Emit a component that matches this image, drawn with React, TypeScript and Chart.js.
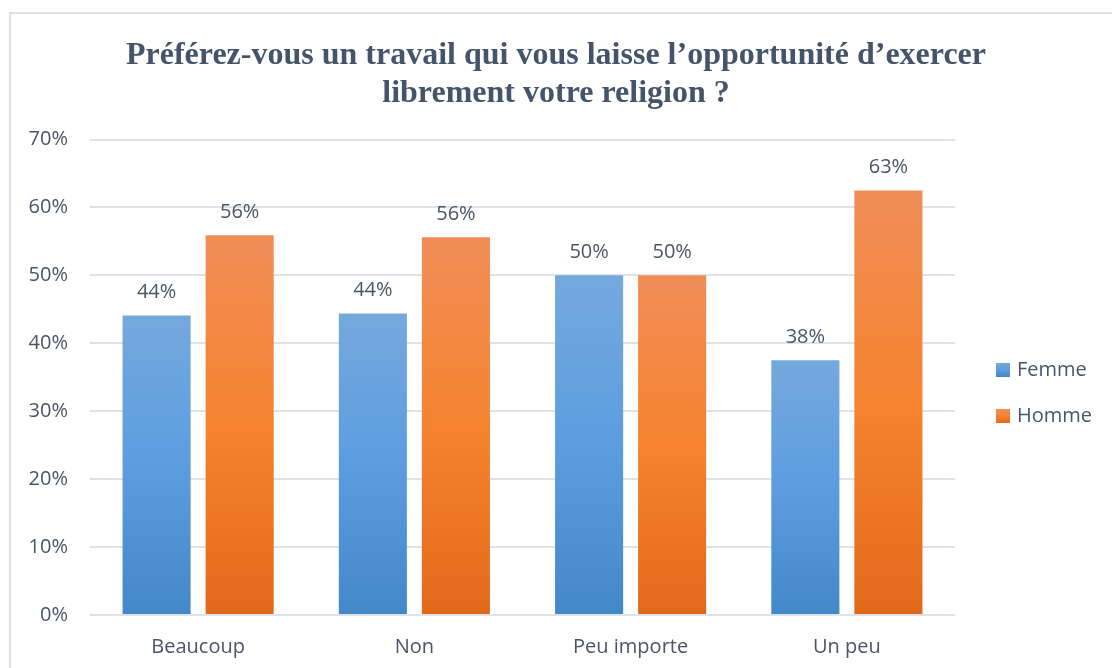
import React, { useEffect, useRef } from "react";
import { Chart, registerables } from "chart.js";

Chart.register(...registerables);

const TITLE_LINES = [
  "Préférez-vous un travail qui vous laisse l’opportunité d’exercer",
  "librement votre religion ?",
];
const CATEGORIES = ["Beaucoup", "Non", "Peu importe", "Un peu"];
const FEMME = [44.1, 44.4, 50, 37.5];
const HOMME = [55.9, 55.6, 50, 62.5];
const SERIES_NAMES = ["Femme", "Homme"];
const Y_TICKS_MAX = 70;
const Y_STEP = 10;

const TEXT_COLOR = "#4a5568";
const TITLE_COLOR = "#44546A";
const SANS = "'Open Sans', 'Liberation Sans', sans-serif";

const FEMME_STOPS = ["#74a9dd", "#5c9de0", "#4388c8"];
const HOMME_STOPS = ["#f08d57", "#f5832f", "#e3691a"];

function gradientFor(stops: string[]) {
  return (ctx: any) => {
    const chart = ctx.chart;
    const area = chart.chartArea;
    if (!area || ctx.type !== "data") return stops[1];
    const y = chart.scales.y;
    const top = y.getPixelForValue(ctx.raw);
    const bottom = y.getPixelForValue(0);
    if (!isFinite(top) || !isFinite(bottom) || top === bottom) return stops[1];
    const g = chart.ctx.createLinearGradient(0, top, 0, bottom);
    g.addColorStop(0, stops[0]);
    g.addColorStop(0.5, stops[1]);
    g.addColorStop(1, stops[2]);
    return g;
  };
}

const dataLabels = {
  id: "dataLabels",
  afterDatasetsDraw(chart: any) {
    const c = chart.ctx;
    c.save();
    c.font = `20px ${SANS}`;
    c.fillStyle = TEXT_COLOR;
    c.textAlign = "center";
    c.textBaseline = "middle";
    chart.data.datasets.forEach((ds: any, i: number) => {
      const meta = chart.getDatasetMeta(i);
      meta.data.forEach((el: any, j: number) => {
        c.fillText(`${Math.round(ds.data[j])}%`, el.x, el.y - 23);
      });
    });
    c.restore();
  },
};

const sideLegend = {
  id: "sideLegend",
  afterDraw(chart: any) {
    const c = chart.ctx;
    c.save();
    c.font = `20px ${SANS}`;
    c.textAlign = "left";
    c.textBaseline = "middle";
    const x = chart.chartArea.right + 41;
    const y0 = 370;
    chart.data.datasets.forEach((ds: any, i: number) => {
      const cy = y0 + i * 46;
      const stops = i === 0 ? FEMME_STOPS : HOMME_STOPS;
      const g = c.createLinearGradient(0, cy - 7, 0, cy + 7);
      g.addColorStop(0, stops[0]);
      g.addColorStop(0.5, stops[1]);
      g.addColorStop(1, stops[2]);
      c.fillStyle = g;
      c.fillRect(x, cy - 7, 14, 14);
      c.fillStyle = TEXT_COLOR;
      c.fillText(ds.label, x + 21, cy);
    });
    c.restore();
  },
};

export default function App() {
  const ref = useRef<HTMLCanvasElement | null>(null);

  useEffect(() => {
    document.body.style.overflow = "hidden";
    if (!ref.current) return;
    const chart = new Chart(ref.current, {
      type: "bar",
      data: {
        labels: CATEGORIES,
        datasets: [
          {
            label: SERIES_NAMES[0],
            data: FEMME,
            backgroundColor: gradientFor(FEMME_STOPS),
            categoryPercentage: 0.768,
            barPercentage: 0.82,
          },
          {
            label: SERIES_NAMES[1],
            data: HOMME,
            backgroundColor: gradientFor(HOMME_STOPS),
            categoryPercentage: 0.768,
            barPercentage: 0.82,
          },
        ],
      },
      options: {
        responsive: false,
        animation: false,
        layout: { padding: { left: 0, right: 0, top: 0, bottom: 0 } },
        plugins: {
          legend: { display: false },
          tooltip: { enabled: false },
          title: {
            display: true,
            text: TITLE_LINES,
            color: TITLE_COLOR,
            font: { family: "'Liberation Serif', 'Times New Roman', serif", size: 32, weight: "bold", lineHeight: 1.18 },
            padding: { top: 37, bottom: 27 },
          },
        },
        scales: {
          x: {
            grid: { display: false, drawTicks: false },
            border: { display: false },
            ticks: { color: TEXT_COLOR, font: { family: SANS, size: 20 }, padding: 20 },
            afterFit: (s: any) => {
              s.height = 53;
            },
          },
          y: {
            min: 0,
            max: Y_TICKS_MAX,
            grid: { color: "#dfe2e8", lineWidth: 2, drawTicks: false },
            border: { display: false },
            ticks: {
              stepSize: Y_STEP,
              color: TEXT_COLOR,
              font: { family: SANS, size: 20 },
              padding: 22,
              callback: (v: any) => `${v}%`,
            },
            afterFit: (s: any) => {
              s.width = 90;
            },
          },
          legendSpace: {
            type: "linear",
            position: "right",
            display: true,
            grid: { display: false, drawTicks: false },
            border: { display: false },
            ticks: { display: false },
            afterFit: (s: any) => {
              s.width = 157;
            },
          },
        },
      },
      plugins: [dataLabels, sideLegend],
    });
    return () => chart.destroy();
  }, []);

  return (
    <div style={{ position: "fixed", left: 0, top: 0, width: 1112, height: 668, background: "#fff" }}>
      <div
        style={{
          position: "absolute",
          left: 9,
          top: 12,
          width: 1200,
          height: 800,
          borderLeft: "2px solid #dcdfe5",
          borderTop: "2px solid #dcdfe5",
        }}
      />
      <canvas ref={ref} width={1112} height={668} style={{ position: "absolute", left: 0, top: 0 }} />
    </div>
  );
}
